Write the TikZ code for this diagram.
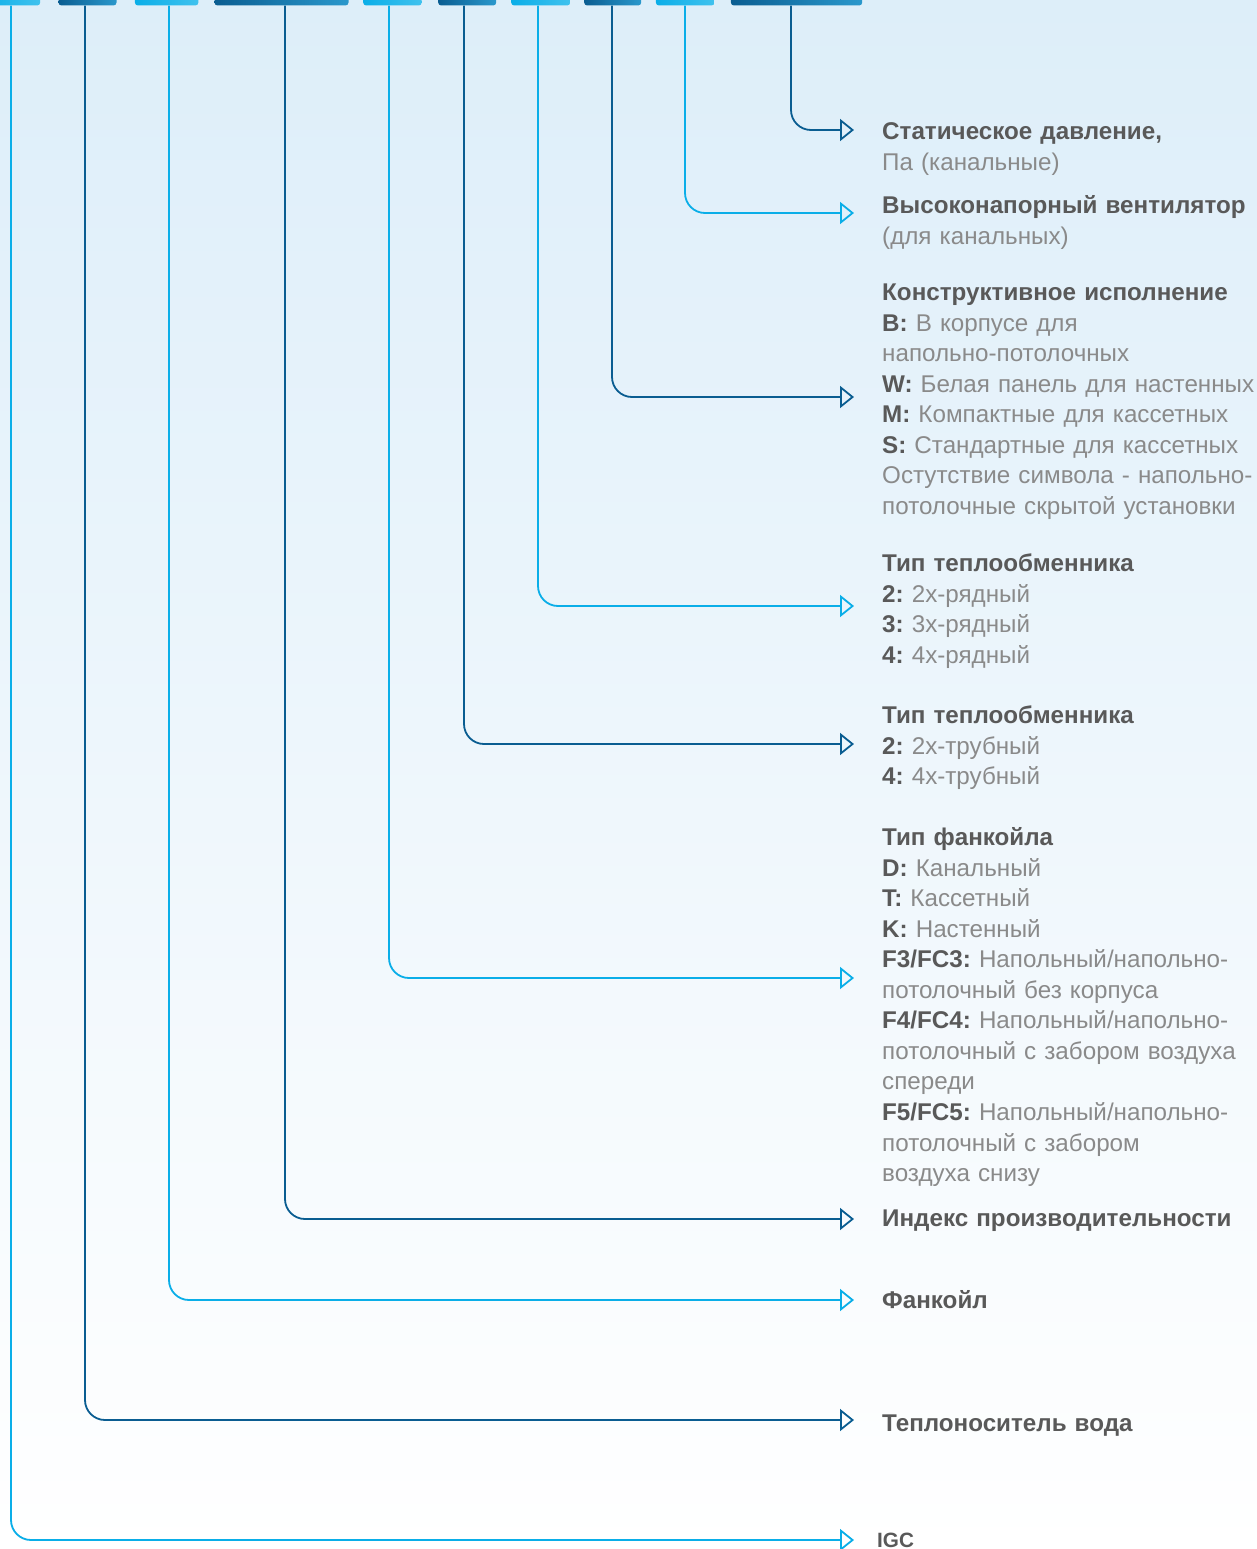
\documentclass[tikz,border=0pt]{standalone}
\usepackage{fontspec}
\setmainfont{Liberation Sans}
\usetikzlibrary{arrows.meta}
\definecolor{lightB}{HTML}{0AAEE8}
\definecolor{lightB2}{HTML}{40C2EE}
\definecolor{darkB}{HTML}{0A5D91}
\definecolor{darkB2}{HTML}{2A98CC}
\definecolor{txtBold}{HTML}{595959}
\definecolor{txtReg}{HTML}{8A8A8A}
\definecolor{skyTop}{HTML}{DDEEF9}
\definecolor{skyMid}{HTML}{EEF7FD}
\newcommand{\kb}[1]{\textbf{\color{txtBold}#1}}
\tikzset{
  barlight/.style={rounded corners=3pt, left color=lightB, right color=lightB2, draw=none, inner sep=0pt, minimum height=14pt, anchor=south west},
  bardark/.style={rounded corners=3pt, left color=darkB, right color=darkB2, draw=none, inner sep=0pt, minimum height=14pt, anchor=south west},
  connlight/.style={draw=lightB, line width=1.8pt, rounded corners=20pt, -{Triangle[open, length=14pt, width=22pt, line width=1.8pt]}},
  conndark/.style={draw=darkB, line width=1.8pt, rounded corners=20pt, -{Triangle[open, length=14pt, width=22pt, line width=1.8pt]}},
  label/.style={anchor=base west, inner sep=0pt, align=left, text width=420pt, color=txtReg, font={\fontsize{24.2}{30.55}\selectfont\frenchspacing}},
}
\begin{document}
\begin{tikzpicture}[x=1pt, y=-1pt]
\useasboundingbox (0,0) rectangle (1257,1549);
\clip (0,0) rectangle (1257,1549);
\shade[top color=skyTop, middle color=skyMid, bottom color=white] (0,0) rectangle (1257,1549);
% top bars
\node[barlight, minimum width=60pt] (b1) at (-20,5.7) {};
\node[bardark, minimum width=58pt] (b2) at (58.3,5.7) {};
\node[barlight, minimum width=63.5pt] (b3) at (134.7,5.7) {};
\node[bardark, minimum width=134pt] (b4) at (214.3,5.7) {};
\node[barlight, minimum width=58.5pt] (b5) at (363,5.7) {};
\node[bardark, minimum width=58pt] (b6) at (438,5.7) {};
\node[barlight, minimum width=59pt] (b7) at (511,5.7) {};
\node[bardark, minimum width=57pt] (b8) at (584,5.7) {};
\node[barlight, minimum width=58.6pt] (b9) at (655.7,5.7) {};
\node[bardark, minimum width=131.3pt] (b10) at (730.7,5.7) {};
% arrow tip coordinates
\coordinate (a1) at (854,1540);
\coordinate (a2) at (854,1420);
\coordinate (a3) at (854,1300);
\coordinate (a4) at (854,1219);
\coordinate (a5) at (854,978);
\coordinate (a6) at (854,744);
\coordinate (a7) at (854,606);
\coordinate (a8) at (854,397);
\coordinate (a9) at (854,213);
\coordinate (a10) at (854,130);
% connectors
\draw[connlight] (b1.south -| 11,0) |- (a1);
\draw[conndark] (b2.south -| 85,0) |- (a2);
\draw[connlight] (b3.south -| 169,0) |- (a3);
\draw[conndark] (b4.south -| 285,0) |- (a4);
\draw[connlight] (b5.south -| 389,0) |- (a5);
\draw[conndark] (b6.south -| 464,0) |- (a6);
\draw[connlight] (b7.south -| 538,0) |- (a7);
\draw[conndark] (b8.south -| 612,0) |- (a8);
\draw[connlight] (b9.south -| 685,0) |- (a9);
\draw[conndark] (b10.south -| 791,0) |- (a10);
% labels
\node[label] (t10) at (882,139.5) {\kb{Статическое давление,}\\Па (канальные)};
\node[label] (t9) at (882,213.5) {\kb{Высоконапорный вентилятор}\\(для канальных)};
\node[label] (t8) at (882,300.5) {\kb{Конструктивное исполнение}\\\kb{B:} В корпусе для\\напольно-потолочных\\\kb{W:} Белая панель для настенных\\\kb{M:} Компактные для кассетных\\\kb{S:} Стандартные для кассетных\\Остутствие символа - напольно-\\потолочные скрытой установки};
\node[label] (t7) at (882,571.5) {\kb{Тип теплообменника}\\\kb{2:} 2х-рядный\\\kb{3:} 3х-рядный\\\kb{4:} 4х-рядный};
\node[label] (t6) at (882,723.5) {\kb{Тип теплообменника}\\\kb{2:} 2х-трубный\\\kb{4:} 4х-трубный};
\node[label] (t5) at (882,845.5) {\kb{Тип фанкойла}\\\kb{D:} Канальный\\\kb{T:} Кассетный\\\kb{K:} Настенный\\\kb{F3/FC3:} Напольный/напольно-\\потолочный без корпуса\\\kb{F4/FC4:} Напольный/напольно-\\потолочный с забором воздуха\\спереди\\\kb{F5/FC5:} Напольный/напольно-\\потолочный с забором\\воздуха снизу};
\node[label] (t4) at (882,1226) {\kb{Индекс производительности}};
\node[label] (t3) at (882,1308.5) {\kb{Фанкойл}};
\node[label] (t2) at (882,1431.5) {\kb{Теплоноситель вода}};
\node[label, font={\fontsize{20.7}{24}\selectfont}] (t1) at (877,1547) {\kb{IGC}};
\end{tikzpicture}
\end{document}
